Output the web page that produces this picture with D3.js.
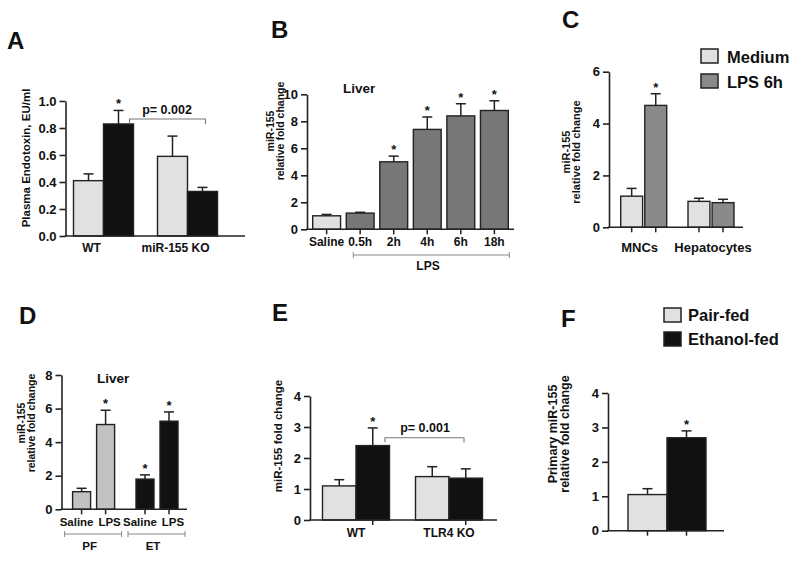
<!DOCTYPE html>
<html><head><meta charset="utf-8">
<script src="https://cdn.jsdelivr.net/npm/d3@7/dist/d3.min.js"></script>
<style>
body{margin:0;background:#fff}
svg{display:block}
text{font-family:'Liberation Sans',Arial,Helvetica,sans-serif;font-weight:bold;fill:#111}
</style>
</head><body>
<svg id="chart" width="800" height="562"></svg>
<script>
// ---------------- DATA ----------------
// Panel A
const aGroups = ["WT", "miR-155 KO"];
const aSeries = ["Pair-fed", "Ethanol-fed"];
const aControl = [0.41, 0.59];
const aControlErr = [0.05, 0.15];
const aTreated = [0.83, 0.33];
const aTreatedErr = [0.10, 0.03];
const aStars = [[false, true], [false, false]];
const aTicks = [0, 0.2, 0.4, 0.6, 0.8, 1.0];
const aTitle = "Plasma Endotoxin, EU/ml";
const aPText = "p= 0.002";

// Panel B
const bCategories = ["Saline", "0.5h", "2h", "4h", "6h", "18h"];
const bValues = [1.0, 1.2, 5.0, 7.4, 8.4, 8.8];
const bErrors = [0.1, 0.06, 0.42, 0.92, 0.9, 0.72];
const bStars = [false, false, true, true, true, true];
const bTicks = [0, 2, 4, 6, 8, 10];
const bTitle = ["miR-155", "relative fold change"];

// Panel C
const cGroups = ["MNCs", "Hepatocytes"];
const cLegend = ["Medium", "LPS 6h"];
const cMedium = [1.2, 1.0];
const cMediumErr = [0.3, 0.12];
const cLPS = [4.7, 0.95];
const cLPSErr = [0.45, 0.13];
const cStars = [[false, true], [false, false]];
const cTicks = [0, 2, 4, 6];
const cTitle = ["miR-155", "relative fold change"];

// Panel D
const dGroups = ["PF", "ET"];
const dConditions = ["Saline", "LPS"];
const dPF = [1.05, 5.05];
const dPFErr = [0.2, 0.85];
const dET = [1.8, 5.25];
const dETErr = [0.25, 0.55];
const dStars = [[false, true], [true, true]];
const dTicks = [0, 2, 4, 6, 8];
const dTitle = ["miR-155", "relative fold change"];

// Panel E
const eGroups = ["WT", "TLR4 KO"];
const ePairFed = [1.1, 1.4];
const ePairFedErr = [0.2, 0.32];
const eEthanol = [2.4, 1.35];
const eEthanolErr = [0.57, 0.3];
const eStars = [[false, true], [false, false]];
const eTicks = [0, 1, 2, 3, 4];
const eTitle = "miR-155 fold change";
const ePText = "p= 0.001";

// Panel F
const fLegend = ["Pair-fed", "Ethanol-fed"];
const fValues = [1.05, 2.7];
const fErrors = [0.17, 0.2];
const fStars = [false, true];
const fTicks = [0, 1, 2, 3, 4];
const fTitle = ["Primary miR-155", "relative fold change"];

// ---------------- STYLE ----------------
const LIGHT = "#e1e1e1", DARK = "#111111", MID = "#777777", MID_C = "#8a8a8a", PF_GRAY = "#c2c2c2";
const INK = "#222";
const svg = d3.select("#chart");

function yAxis(g, y, x0, ticks, fmt) {
  const ax = g.append("g").attr("transform", `translate(${x0},0)`)
    .call(d3.axisLeft(y).tickValues(ticks).tickSize(6).tickSizeOuter(0).tickPadding(3).tickFormat(fmt || d3.format("d")));
  ax.attr("font-family", null).attr("font-size", null);
  ax.select(".domain").attr("stroke", INK).attr("stroke-width", 1.6);
  ax.selectAll(".tick line").attr("stroke", INK).attr("stroke-width", 1.6);
  ax.selectAll(".tick text").attr("font-size", 13).attr("fill", "#111");
}
function xLine(g, x0, x1, y0, tickXs) {
  g.append("line").attr("x1", x0 - 0.8).attr("x2", x1).attr("y1", y0).attr("y2", y0)
    .attr("stroke", INK).attr("stroke-width", 1.6);
  tickXs.forEach(t => g.append("line").attr("x1", t).attr("x2", t).attr("y1", y0).attr("y2", y0 + 5)
    .attr("stroke", INK).attr("stroke-width", 1.5));
}
function bar(g, y, x, w, v, e, fill, star) {
  const top = y(v), et = y(v + e), cx = x + w / 2;
  g.append("line").attr("x1", cx).attr("x2", cx).attr("y1", top).attr("y2", et).attr("stroke", INK).attr("stroke-width", 1.5);
  g.append("line").attr("x1", cx - 5).attr("x2", cx + 5).attr("y1", et).attr("y2", et).attr("stroke", INK).attr("stroke-width", 1.5);
  g.append("rect").attr("x", x).attr("y", top).attr("width", w).attr("height", y(0) - top)
    .attr("fill", fill).attr("stroke", INK).attr("stroke-width", 1.4);
  if (star) g.append("text").attr("x", cx).attr("y", et - 2).attr("text-anchor", "middle").attr("font-size", 13).text("*");
}
function yTitle(g, x, yc, lines, size) {
  const t = g.append("text").attr("transform", `translate(${x},${yc}) rotate(-90)`)
    .attr("text-anchor", "middle").attr("font-size", size);
  lines.forEach((l, i) => t.append("tspan").attr("x", 0).attr("dy", i === 0 ? 0 : size * 0.95).text(l));
}
function letter(x, y, s) { svg.append("text").attr("x", x).attr("y", y).attr("font-size", 24).text(s); }
function bracket(g, x0, x1, y0, h, color) {
  g.append("path").attr("d", `M${x0},${y0 + h}V${y0}H${x1}V${y0 + h}`).attr("fill", "none")
    .attr("stroke", color).attr("stroke-width", 1.1);
}
function label(g, x, y, s, size, anchor) {
  g.append("text").attr("x", x).attr("y", y).attr("font-size", size).attr("text-anchor", anchor || "middle").text(s);
}

// ---------------- PANEL A ----------------
{
  const g = svg.append("g");
  const y = d3.scaleLinear().domain([0, 1]).range([236, 101]);
  const x = d3.scalePoint().domain(aGroups).range([103.5, 187.5]);
  const sub = d3.scaleBand().domain(aSeries).range([-30, 30]);
  aGroups.forEach((grp, i) => {
    bar(g, y, x(grp) + sub(aSeries[0]), sub.bandwidth(), aControl[i], aControlErr[i], LIGHT, aStars[i][0]);
    bar(g, y, x(grp) + sub(aSeries[1]), sub.bandwidth(), aTreated[i], aTreatedErr[i], DARK, aStars[i][1]);
  });
  yAxis(g, y, 65.5, aTicks, d3.format(".1f"));
  xLine(g, 65.5, 245, y(0), []);
  aGroups.forEach(grp => label(g, x(grp) - 12, 252, grp, 12));
  bracket(g, x(aGroups[0]) + 26, x(aGroups[1]) + 18, 119, 5, "#777");
  label(g, 167, 114, aPText, 12.5);
  yTitle(g, 30, 158, [aTitle], 11.5);
  letter(7, 49, "A");
}

// ---------------- PANEL B ----------------
{
  const g = svg.append("g");
  const y = d3.scaleLinear().domain([0, 10]).range([229.3, 94.3]);
  const x = d3.scaleBand().domain(bCategories).range([307, 514]).paddingInner(0.17).paddingOuter(0.17);
  bCategories.forEach((c, i) => bar(g, y, x(c), x.bandwidth(), bValues[i], bErrors[i], i === 0 ? LIGHT : MID, bStars[i]));
  yAxis(g, y, 307, bTicks);
  xLine(g, 307, 514, y(0), bCategories.map(c => x(c) + x.bandwidth() / 2));
  bCategories.forEach(c => label(g, x(c) + x.bandwidth() / 2, 246, c, 12));
  const lx0 = x("0.5h") + 7, lx1 = x("18h") + x.bandwidth() + 1;
  bracket(g, lx0, lx1, 255, 0, "#888");
  [lx0, lx1].forEach(xx => g.append("line").attr("x1", xx).attr("x2", xx).attr("y1", 252).attr("y2", 258).attr("stroke", "#888"));
  label(g, 428, 270, "LPS", 12);
  label(g, 343, 93, "Liver", 13.5, "start");
  yTitle(g, 274, 131, bTitle, 10.5);
  letter(271, 38, "B");
}

// ---------------- PANEL C ----------------
{
  const g = svg.append("g");
  const y = d3.scaleLinear().domain([0, 6]).range([227.3, 71.7]);
  const x = d3.scalePoint().domain(cGroups).range([643.7, 711]);
  const sub = d3.scaleBand().domain(cLegend).range([-23, 23]).paddingInner(0.09);
  const ticks = [];
  cGroups.forEach((grp, i) => {
    bar(g, y, x(grp) + sub(cLegend[0]), sub.bandwidth(), cMedium[i], cMediumErr[i], LIGHT, cStars[i][0]);
    bar(g, y, x(grp) + sub(cLegend[1]), sub.bandwidth(), cLPS[i], cLPSErr[i], MID_C, cStars[i][1]);
    cLegend.forEach(s => ticks.push(x(grp) + sub(s) + sub.bandwidth() / 2));
  });
  yAxis(g, y, 609, cTicks);
  xLine(g, 609, 743, y(0), ticks);
  cGroups.forEach((grp, i) => label(g, x(grp) + (i === 0 ? -4 : 2), 252, grp, 13));
  [LIGHT, MID_C].forEach((f, i) => {
    g.append("rect").attr("x", 701).attr("y", 49 + i * 25).attr("width", 17).attr("height", 14)
      .attr("fill", f).attr("stroke", INK).attr("stroke-width", 1.5);
    label(g, 727, 62.5 + i * 25, cLegend[i], 16.5, "start");
  });
  yTitle(g, 570, 152, cTitle, 11);
  letter(562, 28, "C");
}

// ---------------- PANEL D ----------------
{
  const g = svg.append("g");
  const y = d3.scaleLinear().domain([0, 8]).range([509.3, 375]);
  const x = d3.scalePoint().domain(dGroups).range([93.6, 157]);
  const sub = d3.scaleBand().domain(dConditions).range([-21, 21]).paddingInner(0.25);
  const data = [[dPF, dPFErr, PF_GRAY], [dET, dETErr, DARK]];
  const ticks = [];
  dGroups.forEach((grp, gi) => {
    dConditions.forEach((c, ci) => {
      const bx = x(grp) + sub(c);
      bar(g, y, bx, sub.bandwidth(), data[gi][0][ci], data[gi][1][ci], data[gi][2], dStars[gi][ci]);
      ticks.push(bx + sub.bandwidth() / 2);
      label(g, bx + sub.bandwidth() / 2 + (ci === 0 ? -5 : 4), 526, c, 11.5);
    });
  });
  yAxis(g, y, 61.5, dTicks);
  xLine(g, 61.5, 187, y(0), ticks);
  dGroups.forEach((grp, gi) => {
    const x0 = x(grp) - 29, x1 = x(grp) + 28;
    g.append("line").attr("x1", x0).attr("x2", x1).attr("y1", 534).attr("y2", 534).attr("stroke", "#888");
    [x0, x1].forEach(xx => g.append("line").attr("x1", xx).attr("x2", xx).attr("y1", 531).attr("y2", 537).attr("stroke", "#888"));
    label(g, x(grp) - 4, 550, grp, 11.5);
  });
  label(g, 97, 383, "Liver", 13.5, "start");
  yTitle(g, 25, 423, dTitle, 10.5);
  letter(19, 324, "D");
}

// ---------------- PANEL E ----------------
{
  const g = svg.append("g");
  const y = d3.scaleLinear().domain([0, 4]).range([520, 396]);
  const x = d3.scalePoint().domain(eGroups).range([356, 449]);
  const sub = d3.scaleBand().domain(fLegend).range([-33.5, 33.5]);
  eGroups.forEach((grp, i) => {
    bar(g, y, x(grp) + sub(fLegend[0]), sub.bandwidth(), ePairFed[i], ePairFedErr[i], LIGHT, eStars[i][0]);
    bar(g, y, x(grp) + sub(fLegend[1]), sub.bandwidth(), eEthanol[i], eEthanolErr[i], DARK, eStars[i][1]);
  });
  yAxis(g, y, 310, eTicks);
  xLine(g, 310, 497, y(0), eGroups.map(grp => x(grp) + sub(fLegend[1]) + sub.bandwidth() / 2));
  eGroups.forEach(grp => label(g, x(grp), 537, grp, 12));
  bracket(g, 385, 464, 437.7, 4.5, "#777");
  label(g, 425, 432, ePText, 12.5);
  yTitle(g, 282, 436, [eTitle], 11.5);
  letter(272, 321, "E");
}

// ---------------- PANEL F ----------------
{
  const g = svg.append("g");
  const y = d3.scaleLinear().domain([0, 4]).range([530.7, 393]);
  const x = d3.scaleBand().domain(fLegend).range([628, 706]);
  const fills = [LIGHT, DARK];
  fLegend.forEach((s, i) => bar(g, y, x(s), x.bandwidth(), fValues[i], fErrors[i], fills[i], fStars[i]));
  yAxis(g, y, 608, fTicks);
  xLine(g, 608, 724, y(0), fLegend.map(s => x(s) + x.bandwidth() / 2));
  fills.forEach((f, i) => {
    g.append("rect").attr("x", 664).attr("y", 308 + i * 24).attr("width", 17).attr("height", 14)
      .attr("fill", f).attr("stroke", INK).attr("stroke-width", 1.5);
    label(g, 688, 321 + i * 24, fLegend[i], 16.5, "start");
  });
  yTitle(g, 557, 434, fTitle, 12.5);
  letter(561, 327, "F");
}
</script>
</body></html>
